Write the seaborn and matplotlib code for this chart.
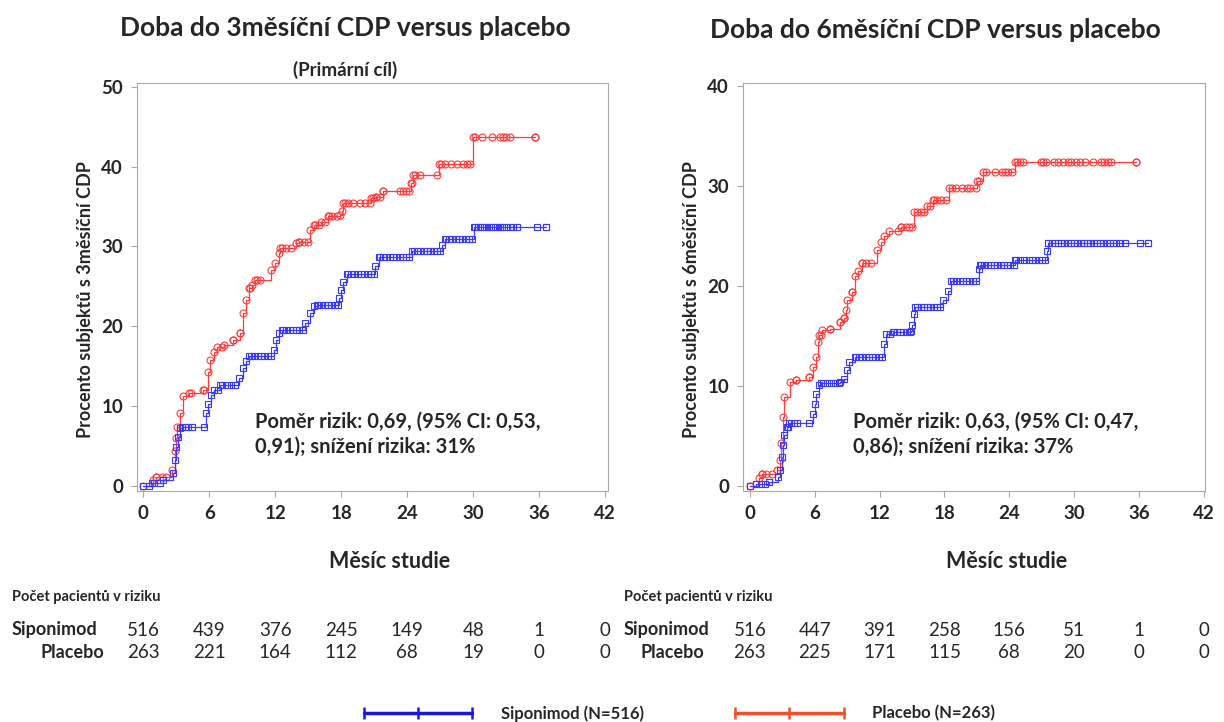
import numpy as np
import seaborn as sns
import matplotlib.pyplot as plt
from matplotlib.lines import Line2D
from matplotlib.transforms import blended_transform_factory

# --- data ---
# 3-month CDP, placebo step curve
l_pla_t = [0, 0.9, 1.2, 2.6, 2.9, 3.0, 3.1, 3.3, 3.6, 4.2, 5.4, 5.9, 6.1, 6.4, 6.7, 7.3, 8.2, 8.8, 9.1, 9.3,
           9.6, 9.9, 10.2, 11.6, 12.0, 12.3, 12.4, 13.9, 14.2, 15.2, 15.5, 16.2, 16.8, 17.9, 18.1, 18.2,
           20.7, 21.2, 21.8, 24.3, 24.5, 26.9, 30.0, 35.6]
l_pla_v = [0, 0.7, 1.1, 2.0, 4.3, 6.0, 7.4, 9.1, 11.2, 11.6, 12.0, 14.3, 15.8, 16.8, 17.4, 17.6, 18.3, 19.1,
           21.6, 23.3, 24.8, 25.2, 25.8, 27.1, 27.9, 29.2, 29.8, 30.4, 30.6, 32.1, 32.7, 33.1, 33.8, 33.9,
           34.4, 35.4, 36.1, 36.2, 36.9, 37.9, 39.0, 40.4, 43.7, 43.7]
l_pla_cens = [1.2, 1.7, 2.1, 4.3, 5.5, 7.2, 8.2, 8.8, 9.7, 10.3, 10.6, 12.6, 13.0, 13.4, 14.2, 14.6, 15.0,
              15.6, 16.0, 16.5, 16.9, 17.2, 17.6, 18.3, 18.6, 19.1, 19.7, 20.2, 20.6, 20.9, 21.2, 21.5,
              21.8, 23.3, 23.6, 23.9, 24.2, 24.4, 24.7, 25.2, 26.7, 27.1, 27.4, 28.0, 28.5, 29.1, 29.4,
              29.7, 30.2, 30.8, 31.7, 32.4, 32.7, 33.0, 33.3, 35.6]

# 3-month CDP, siponimod step curve
l_sip_t = [0, 0.8, 1.8, 2.7, 2.9, 3.0, 3.2, 3.3, 3.5, 5.7, 5.9, 6.2, 6.4, 7.0, 8.7, 9.1, 9.3, 9.6, 11.9,
           12.1, 12.3, 12.6, 14.7, 15.2, 15.5, 15.8, 17.8, 18.0, 18.2, 18.5, 21.1, 21.4, 24.4, 27.2, 27.4,
           30.1, 36.6]
l_sip_v = [0, 0.3, 0.7, 1.6, 3.2, 4.9, 6.1, 7.2, 7.4, 9.1, 10.3, 11.4, 12.0, 12.6, 13.5, 14.7, 15.6, 16.2,
           17.0, 18.3, 19.1, 19.5, 20.4, 21.6, 22.5, 22.7, 23.5, 24.6, 25.6, 26.5, 27.5, 28.7, 29.4, 30.2,
           30.9, 32.4, 32.4]
l_sip_cens = [0.5, 1.0, 1.5, 3.5, 3.8, 4.1, 4.4, 5.5, 6.8, 7.2, 7.6, 8.0, 8.3, 9.8, 10.1, 10.4, 10.7, 11.0,
              11.3, 11.6, 12.7, 13.0, 13.3, 13.6, 13.9, 14.2, 14.5, 15.9, 16.2, 16.5, 16.8, 17.1, 17.4,
              17.7, 18.6, 18.9, 19.2, 19.5, 19.8, 20.1, 20.4, 20.7, 21.0, 21.5, 21.8, 22.1, 22.4, 22.7,
              23.0, 23.3, 23.6, 23.9, 24.2, 24.6, 24.9, 25.2, 25.5, 25.8, 26.1, 26.4, 26.7, 27.0, 27.5,
              27.8, 28.1, 28.4, 28.7, 29.0, 29.3, 29.6, 29.9, 30.2, 30.4, 30.6, 30.8, 31.0, 31.2, 31.4,
              31.6, 31.8, 32.0, 32.2, 32.4, 32.6, 32.8, 33.0, 33.3, 33.6, 34.0, 35.8, 36.6]

# 6-month CDP, placebo step curve
r_pla_t = [0, 0.8, 1.1, 2.5, 2.8, 2.9, 3.1, 3.2, 3.7, 4.3, 5.5, 5.8, 6.1, 6.3, 6.4, 6.7, 7.4, 8.3, 8.7,
           8.9, 9.0, 9.4, 9.7, 10.0, 10.4, 11.8, 12.1, 12.4, 12.9, 14.0, 15.2, 16.4, 16.9, 18.4, 21.0,
           21.6, 24.5, 35.7]
r_pla_v = [0, 0.8, 1.2, 1.6, 2.6, 4.3, 6.9, 8.9, 10.4, 10.6, 10.9, 11.9, 12.9, 14.4, 15.1, 15.6, 15.7,
           16.4, 16.8, 17.6, 18.6, 19.4, 21.0, 21.5, 22.3, 23.6, 24.4, 25.0, 25.5, 25.9, 27.4, 28.0, 28.6,
           29.8, 30.5, 31.4, 32.4, 32.4]
r_pla_cens = [1.1, 1.5, 2.0, 4.3, 5.5, 6.6, 7.4, 8.3, 8.7, 9.4, 10.4, 10.7, 11.2, 13.7, 14.0, 14.4, 14.7,
              15.0, 15.5, 15.8, 16.1, 16.7, 17.0, 17.3, 17.7, 18.1, 18.7, 19.1, 19.6, 20.1, 20.4, 20.9,
              21.2, 21.8, 22.7, 23.3, 23.6, 23.9, 24.2, 24.7, 25.0, 25.3, 26.9, 27.1, 27.4, 28.1, 28.5,
              29.0, 29.4, 29.7, 30.2, 30.5, 31.0, 31.7, 32.5, 32.8, 33.1, 33.4, 35.7]

# 6-month CDP, siponimod step curve
r_sip_t = [0, 0.6, 1.8, 2.6, 2.8, 3.0, 3.1, 3.2, 3.4, 3.6, 5.8, 6.0, 6.1, 6.4, 6.6, 8.3, 8.7, 9.0, 9.2,
           9.7, 12.4, 12.6, 13.2, 14.9, 15.0, 15.2, 15.3, 17.9, 18.3, 18.6, 21.2, 21.3, 24.5, 27.5, 27.6,
           36.8]
r_sip_v = [0, 0.2, 0.4, 0.9, 1.6, 2.9, 4.1, 5.1, 5.9, 6.25, 7.2, 8.2, 9.2, 10.1, 10.3, 10.4, 10.7, 11.6,
           12.4, 12.9, 14.2, 15.2, 15.4, 15.5, 16.1, 17.2, 17.9, 18.6, 19.5, 20.5, 21.7, 22.1, 22.6, 23.5,
           24.3, 24.3]
r_sip_cens = [0.6, 1.0, 1.4, 1.8, 3.5, 3.8, 4.1, 4.4, 5.5, 6.8, 7.1, 7.5, 7.9, 8.2, 9.8, 10.1, 10.4, 10.7,
              11.0, 11.3, 11.6, 11.9, 12.2, 13.0, 13.3, 13.6, 13.9, 14.2, 14.5, 14.8, 15.5, 15.8, 16.1,
              16.4, 16.7, 17.0, 17.3, 17.6, 18.8, 19.1, 19.4, 19.7, 20.0, 20.3, 20.6, 20.9, 21.4, 21.7,
              22.0, 22.3, 22.6, 22.9, 23.2, 23.5, 23.8, 24.1, 24.4, 24.6, 25.0, 25.4, 25.8, 26.1, 26.4,
              26.7, 27.0, 27.3, 27.6, 27.9, 28.2, 28.5, 28.8, 29.1, 29.4, 29.7, 30.0, 30.3, 30.6, 30.9,
              31.2, 31.5, 31.8, 32.1, 32.4, 32.7, 33.0, 33.3, 33.6, 33.9, 34.2, 34.7, 36.1, 36.8]

risk_months = [0, 6, 12, 18, 24, 30, 36, 42]
l_risk_sip = [516, 439, 376, 245, 149, 48, 1, 0]
l_risk_pla = [263, 221, 164, 112, 68, 19, 0, 0]
r_risk_sip = [516, 447, 391, 258, 156, 51, 1, 0]
r_risk_pla = [263, 225, 171, 115, 68, 20, 0, 0]

titles = ['Doba do 3měsíční CDP versus placebo', 'Doba do 6měsíční CDP versus placebo']
ylabels = ['Procento subjektů s 3měsíční CDP', 'Procento subjektů s 6měsíční CDP']
hr_texts = ['Poměr rizik: 0,69, (95% CI: 0,53,\n0,91); snížení rizika: 31%',
            'Poměr rizik: 0,63, (95% CI: 0,47,\n0,86); snížení rizika: 37%']

RED = '#ff3b3b'
BLUE = '#3a3aff'

sns.set_style('white')
plt.rcParams['font.family'] = ['Lato', 'DejaVu Sans']

fig = plt.figure(figsize=(12.24, 7.22), dpi=100)
ax1 = fig.add_axes([0.1119, 0.320, 0.3848, 0.565])
ax2 = fig.add_axes([0.6070, 0.320, 0.3775, 0.565])


def step_y(t, v, c):
    idx = np.searchsorted(np.array(t), np.array(c), side='right') - 1
    return np.array(v)[idx]


def draw_km(ax, t, v, cens, color, marker):
    sns.lineplot(x=t, y=v, ax=ax, drawstyle='steps-post', color=color, lw=0.9,
                 estimator=None, sort=False, marker=marker, ms=5, mfc='none', mec=color, mew=0.8)
    ax.plot(cens, step_y(t, v, cens), ls='none', marker=marker, ms=5, mfc='none', mec=color, mew=0.8)


draw_km(ax1, l_pla_t, l_pla_v, l_pla_cens, RED, 'o')
draw_km(ax1, l_sip_t, l_sip_v, l_sip_cens, BLUE, 's')
draw_km(ax2, r_pla_t, r_pla_v, r_pla_cens, RED, 'o')
draw_km(ax2, r_sip_t, r_sip_v, r_sip_cens, BLUE, 's')

ax1.set_xlim(-0.57, 42.25)
ax1.set_ylim(-0.67, 50.5)
ax1.set_yticks([0, 10, 20, 30, 40, 50])
ax2.set_xlim(-0.64, 42.1)
ax2.set_ylim(-0.5, 40.3)
ax2.set_yticks([0, 10, 20, 30, 40])

for ax in (ax1, ax2):
    ax.set_xticks(risk_months)
    for s in ax.spines.values():
        s.set_color('#a8a8a8')
        s.set_linewidth(0.8)
    ax.tick_params(axis='both', which='both', direction='out', length=4, width=0.8,
                   color='#a8a8a8', labelsize=13.5, pad=6)
    ax.tick_params(left=True, bottom=True)
    for lab in ax.get_xticklabels() + ax.get_yticklabels():
        lab.set_fontweight('bold')
    ax.set_xlabel('')
    ax.set_ylabel('')

# titles and labels
fig.text(345 / 1224, 1 - 28 / 722, titles[0], ha='center', va='center', fontsize=19, fontweight='bold')
fig.text(935 / 1224, 1 - 30 / 722, titles[1], ha='center', va='center', fontsize=19, fontweight='bold')
fig.text(345 / 1224, 1 - 70 / 722, '(Primární cíl)', ha='center', va='center', fontsize=13.5, fontweight='bold')
fig.text(86 / 1224, 1 - 300 / 722, ylabels[0], ha='center', va='center', rotation=90,
         fontsize=13, fontweight='bold')
fig.text(692 / 1224, 1 - 300 / 722, ylabels[1], ha='center', va='center', rotation=90,
         fontsize=13, fontweight='bold')
fig.text(390 / 1224, 1 - 562 / 722, 'Měsíc studie', ha='center', va='center', fontsize=15.5, fontweight='bold')
fig.text(1007 / 1224, 1 - 562 / 722, 'Měsíc studie', ha='center', va='center', fontsize=15.5, fontweight='bold')

fig.text(255 / 1224, 1 - 434 / 722, hr_texts[0], ha='left', va='center', fontsize=14.5, fontweight='bold',
         linespacing=1.35)
fig.text(853 / 1224, 1 - 434 / 722, hr_texts[1], ha='left', va='center', fontsize=14.5, fontweight='bold',
         linespacing=1.35)

# number at risk tables
for ax, x0, x1, sip, pla in [(ax1, 12, 104, l_risk_sip, l_risk_pla), (ax2, 624, 704, r_risk_sip, r_risk_pla)]:
    fig.text(x0 / 1224, 1 - 597 / 722, 'Počet pacientů v riziku', ha='left', va='center',
             fontsize=10.5, fontweight='bold')
    fig.text(x0 / 1224, 1 - 630 / 722, 'Siponimod', ha='left', va='center', fontsize=13, fontweight='bold')
    fig.text(x1 / 1224, 1 - 652 / 722, 'Placebo', ha='right', va='center', fontsize=13, fontweight='bold')
    tr = blended_transform_factory(ax.transData, fig.transFigure)
    for m, a, b in zip(risk_months, sip, pla):
        ax.text(m, 1 - 630 / 722, str(a), transform=tr, ha='center', va='center', fontsize=13.5)
        ax.text(m, 1 - 652 / 722, str(b), transform=tr, ha='center', va='center', fontsize=13.5)

handles = [Line2D([], [], color='#1616e0', lw=2.5, marker='|', ms=9, mew=1.8),
           Line2D([], [], color='#f0502e', lw=2.5, marker='|', ms=9, mew=1.8)]
fig.legend(handles, ['Siponimod (N=516)', 'Placebo (N=263)'], loc='center', bbox_to_anchor=(0.553, 0.012),
           ncol=2, frameon=False, numpoints=3, handlelength=7.1, handletextpad=1.4, columnspacing=5.2,
           prop={'weight': 'bold', 'size': 12})

fig.savefig('out.png', dpi=100)
